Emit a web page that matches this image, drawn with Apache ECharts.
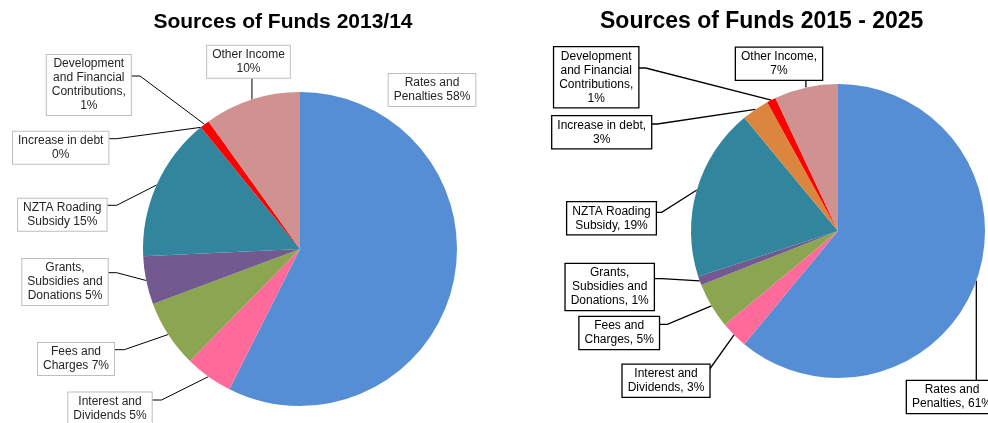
<!DOCTYPE html>
<html>
<head>
<meta charset="utf-8">
<script src="https://cdn.jsdelivr.net/npm/echarts@6/dist/echarts.min.js"></script>
<style>
  html, body { margin: 0; padding: 0; background: #ffffff; }
  #chart { width: 988px; height: 423px; }
</style>
</head>
<body>
<div id="chart"></div>
<script>
// Funding sources (share of total, %)
const categories = [
  'Rates and\nPenalties',
  'Interest and\nDividends',
  'Fees and\nCharges',
  'Grants,\nSubsidies and\nDonations',
  'NZTA Roading\nSubsidy',
  'Increase in debt',
  'Development\nand Financial\nContributions,',
  'Other Income'
];
const funds1314 = [58, 5, 7, 5, 15, 0, 1, 10];
const funds1525 = [61, 3, 5, 1, 19, 3, 1, 7];

// text placed between a category name and its percentage
const sep1314 = [' ', ' ', ' ', ' ', ' ', '\n', '\n', '\n'];
const sep1525 = [', ', ', ', ', ', ', ', ', ', ',\n', '\n', ',\n'];

const sliceColors = ['#558ed5', '#fe6a9a', '#8ba550', '#72598f', '#31859c', '#dc853e', '#ff0000', '#d09291'];

// label box centre [x, y], then leader-line join point [x, y] and elbow x
// (join x of null = straight drop from the slice edge)
const place1314 = [
  [432, 90],
  [110, 408.5, 151.7, 400, 161.5],
  [76, 359, 114.3, 349.7, 124.3],
  [65, 282, 107.7, 272.7, 116.7],
  [62.3, 214.8, 107.3, 205.3, 116.7],
  [60.7, 147.7, 108.7, 138.7, 116.7],
  [88.8, 85, 131, 76, 140],
  [248.5, 61.7, null, 77.7, null]
];
const place1525 = [
  [952, 397, null, 381, null],
  [666, 380.7, 709, 370, 709],
  [619.2, 333, 658.7, 324.3, 667.3],
  [609.7, 287, 653.3, 278.7, 661.7],
  [611.5, 218.3, 655, 212.3, 661.7],
  [601.7, 132.3, 650.3, 124, 657.3],
  [596.2, 77.2, 637.7, 68, 645.7],
  [779, 63.7, null, 80, null]
];

function placer(pos) {
  return function (p) {
    const q = pos[p.dataIndex];
    const out = { x: q[0], y: q[1], align: 'center', verticalAlign: 'middle' };
    const pts = p.labelLinePoints;
    if (pts && q.length > 2) {
      const edge = pts[0];
      const jx = q[2] == null ? edge[0] : q[2];
      const ex = q[4] == null ? jx : q[4];
      out.labelLinePoints = [[edge[0], edge[1]], [ex, q[3]], [jx, q[3]]];
    }
    return out;
  };
}

function pieSeries(values, seps, pos, center, radius, textColor, boxColor, lineWidth, hideFirstLine) {
  return {
    type: 'pie',
    center: center,
    radius: radius,
    startAngle: 90,
    clockwise: true,
    avoidLabelOverlap: false,
    silent: true,
    itemStyle: { borderWidth: 0 },
    data: values.map(function (v, i) {
      const item = { value: v, name: categories[i], itemStyle: { color: sliceColors[i] } };
      if (hideFirstLine && i === 0) item.labelLine = { show: false };
      return item;
    }),
    label: {
      show: true,
      position: 'outside',
      formatter: function (p) { return p.name + seps[p.dataIndex] + p.value + '%'; },
      fontFamily: '"Liberation Sans", Arial, sans-serif',
      fontSize: 12,
      lineHeight: 14,
      color: textColor,
      align: 'center',
      backgroundColor: '#ffffff',
      borderColor: boxColor,
      borderWidth: lineWidth,
      padding: [2, 5]
    },
    labelLine: {
      show: true,
      length: 10,
      length2: 10,
      lineStyle: { color: '#000000', width: lineWidth }
    },
    labelLayout: placer(pos),
    emphasis: { disabled: true }
  };
}

const titleFont = '"Liberation Sans", Arial, sans-serif';
const chart = echarts.init(document.getElementById('chart'), null, { renderer: 'canvas' });
chart.setOption({
  animation: false,
  backgroundColor: '#ffffff',
  title: [
    {
      text: 'Sources of Funds 2013/14',
      left: 283, top: 12, textAlign: 'center', padding: 0,
      textStyle: { fontFamily: titleFont, fontSize: 21, fontWeight: 'bold', color: '#000000' }
    },
    {
      text: 'Sources of Funds 2015 - 2025',
      left: 761.7, top: 10, textAlign: 'center', padding: 0,
      textStyle: { fontFamily: titleFont, fontSize: 23, fontWeight: 'bold', color: '#000000' }
    }
  ],
  series: [
    pieSeries(funds1314, sep1314, place1314, [300, 249], 157, '#262626', '#bfbfbf', 1, true),
    pieSeries(funds1525, sep1525, place1525, [838, 231], 147, '#000000', '#000000', 1.3, false)
  ]
});
</script>
</body>
</html>
